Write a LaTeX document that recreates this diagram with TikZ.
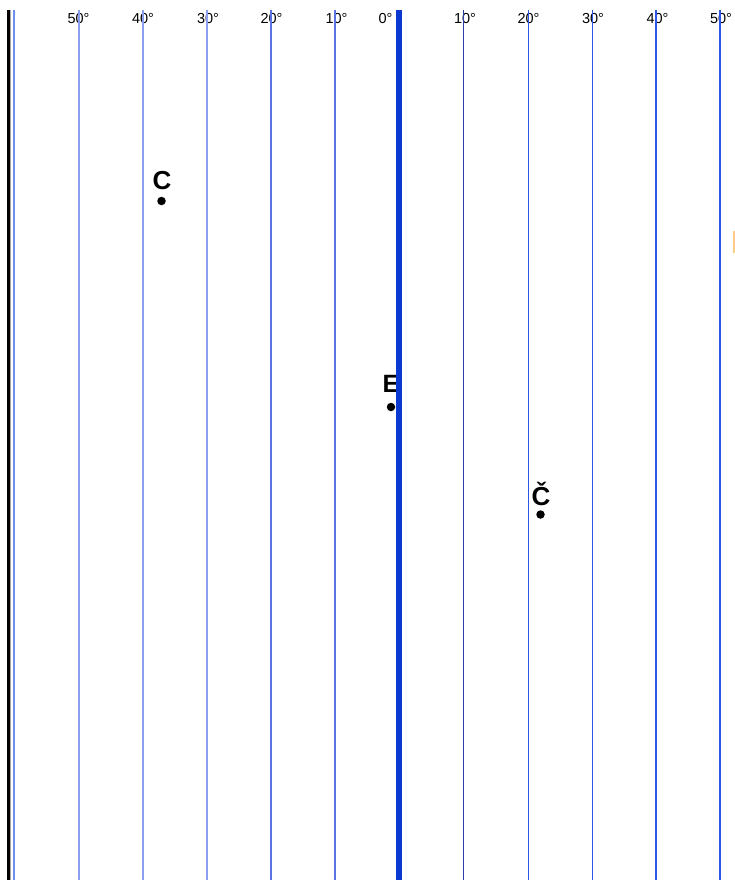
\documentclass[tikz,border=0pt]{standalone}
\usepackage{fontspec}
\setmainfont{Liberation Sans}
\definecolor{paleblue}{HTML}{8A9FEE}
\definecolor{midblue}{HTML}{5A72E2}
\definecolor{darkline}{HTML}{2A3FA8}
\definecolor{brightblue}{HTML}{2E55E8}
\definecolor{thickblue}{HTML}{0B38CF}
\definecolor{edgeblue}{HTML}{6E8FF2}
\definecolor{softorange}{HTML}{FFCC88}
\tikzset{
  deg/.style={font=\fontsize{14.5}{14.5}\selectfont, anchor=base, inner sep=0pt},
  ptlabel/.style={font=\fontsize{26}{26}\selectfont\bfseries, anchor=base, inner sep=0pt},
  ptdot/.style={circle, fill=black, inner sep=0pt, minimum size=8.5pt},
  gridpale/.style={paleblue, line width=1.6pt},
  gridmid/.style={midblue, line width=1.3pt},
  griddark/.style={darkline, line width=1.1pt},
  gridbright/.style={brightblue, line width=1.3pt}
}
\begin{document}
\begin{tikzpicture}[x=1pt,y=-1pt]
\useasboundingbox (0,0) rectangle (735,880);
\fill[white] (0,0) rectangle (735,880);
% labels of degrees
\node[deg] (l50) at (78.5,23.5) {50°};
\node[deg] (l40) at (143,23.5) {40°};
\node[deg] (l30) at (208,23.5) {30°};
\node[deg] (l20) at (271.5,23.5) {20°};
\node[deg] (l10) at (336.5,23.5) {10°};
\node[deg] (l0) at (385.5,23.5) {0°};
\node[deg] (r10) at (465,23.5) {10°};
\node[deg] (r20) at (528.5,23.5) {20°};
\node[deg] (r30) at (593,23.5) {30°};
\node[deg] (r40) at (657.5,23.5) {40°};
\node[deg] (r50) at (721,23.5) {50°};
% points
\node[ptlabel] (C) at (162,189) {C};
\node[ptdot] (Cd) at (161.5,201) {};
\node[ptlabel,font=\fontsize{25}{25}\selectfont\bfseries] (E) at (391,392) {E};
\node[ptdot] (Ed) at (391,407) {};
\node[ptlabel] (Cc) at (541,505) {Č};
\node[ptdot] (Ccd) at (540.5,514.5) {};
% left edge
\draw[black, line width=3pt] (8.6,10) -- (8.6,880);
\draw[gray!70, line width=0.9pt] (10.8,10) -- (10.8,880);
\draw[edgeblue, line width=1.6pt] (14,10) -- (14,880);
% meridians
\draw[gridpale] (79,10) -- (79,880);
\draw[gridpale] (143,10) -- (143,880);
\draw[gridpale] (207,10) -- (207,880);
\draw[gridmid] (271,10) -- (271,880);
\draw[gridmid] (335,10) -- (335,880);
\draw[thickblue, line width=5.5pt] (399,10) -- (399,880);
\draw[griddark] (463.3,10) -- (463.3,880);
\draw[gridbright] (528.3,10) -- (528.3,880);
\draw[gridbright] (592.3,10) -- (592.3,880);
\draw[gridbright] (656,10) -- (656,880);
\draw[gridbright] (720,10) -- (720,880);
% small orange mark at right edge
\draw[softorange, line width=1.5pt] (734,231) -- (734,253);
\end{tikzpicture}
\end{document}
